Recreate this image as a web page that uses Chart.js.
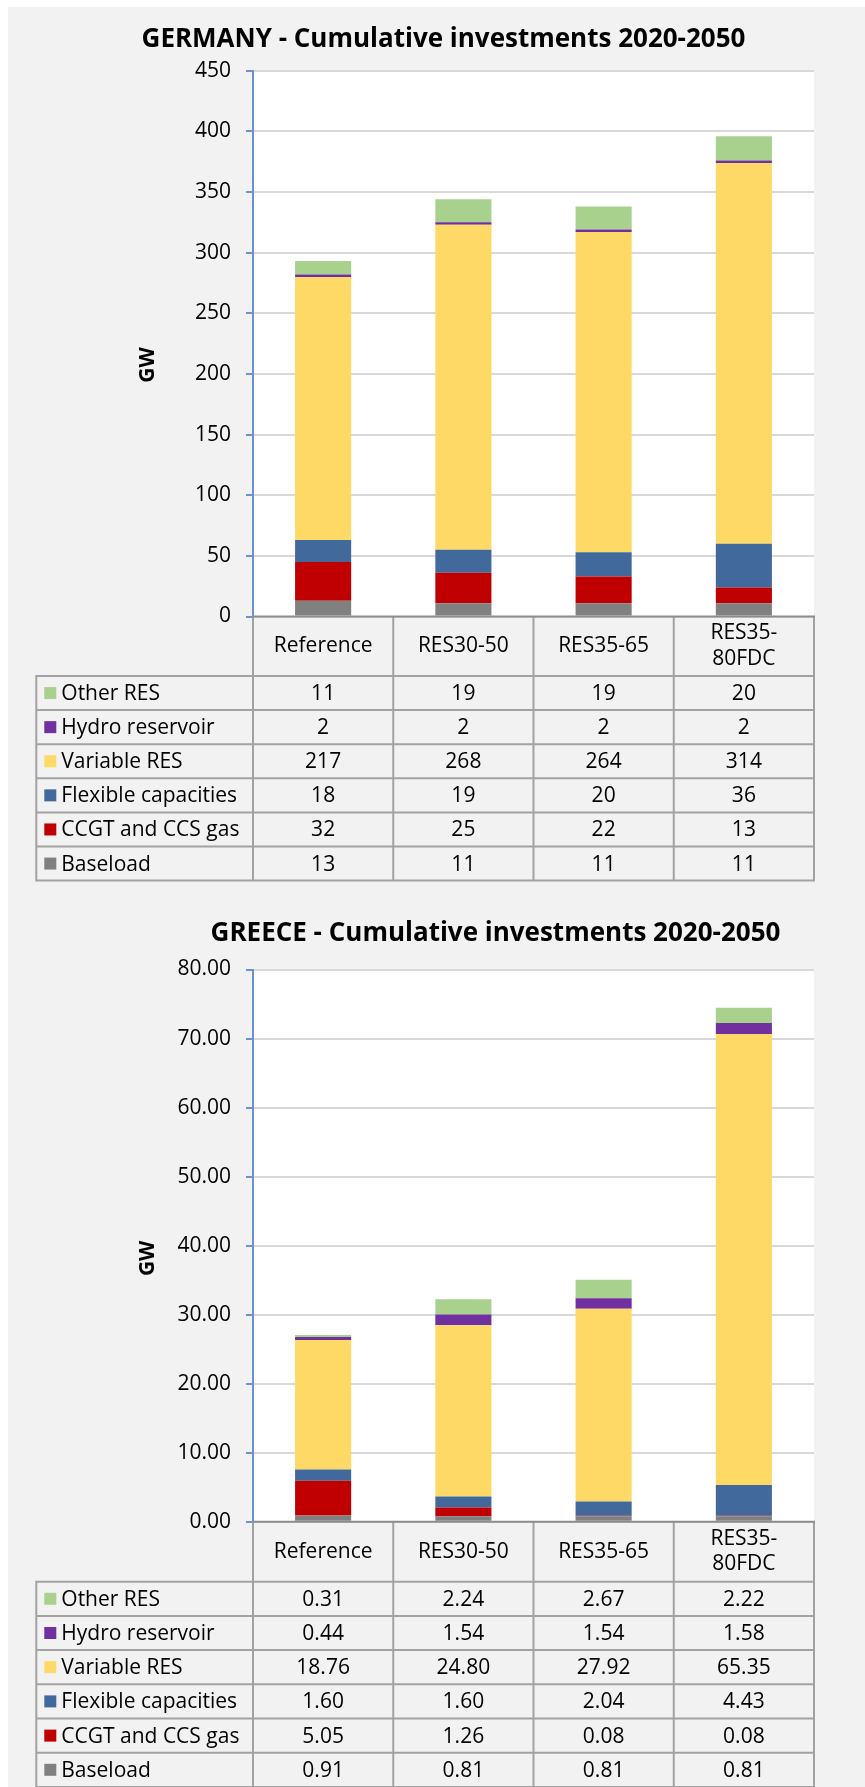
<!DOCTYPE html>
<html><head><meta charset="utf-8">
<script src="https://cdn.jsdelivr.net/npm/chart.js@4.4.1/dist/chart.umd.min.js"></script>
<style>
html,body{margin:0;padding:0;background:#fff;width:865px;height:1787px;overflow:hidden;}
#panel{position:absolute;left:8px;top:7px;right:0;bottom:0;background:#f2f2f2;}
canvas{position:absolute;left:0;}
#c1{top:0px;}
#c2{top:895px;}
</style></head><body>
<div id="panel"></div>
<canvas id="c1" width="865" height="895"></canvas>
<canvas id="c2" width="865" height="892"></canvas>
<script>
// ---- data ----
const categories = ['Reference', 'RES30-50', 'RES35-65', ['RES35-', '80FDC']];
const seriesNames = ['Baseload', 'CCGT and CCS gas', 'Flexible capacities', 'Variable RES', 'Hydro reservoir', 'Other RES'];

const deBaseload = [13, 11, 11, 11];
const deCcgt     = [32, 25, 22, 13];
const deFlexible = [18, 19, 20, 36];
const deVariable = [217, 268, 264, 314];
const deHydro    = [2, 2, 2, 2];
const deOther    = [11, 19, 19, 20];
const deYTicks   = [0, 50, 100, 150, 200, 250, 300, 350, 400, 450];

const grBaseload = [0.91, 0.81, 0.81, 0.81];
const grCcgt     = [5.05, 1.26, 0.08, 0.08];
const grFlexible = [1.60, 1.60, 2.04, 4.43];
const grVariable = [18.76, 24.80, 27.92, 65.35];
const grHydro    = [0.44, 1.54, 1.54, 1.58];
const grOther    = [0.31, 2.24, 2.67, 2.22];
const grYTicks   = [0, 10, 20, 30, 40, 50, 60, 70, 80];

// ---- styles ----
const seriesColors = ['#808080', '#c00000', '#41699c', '#fed966', '#7030a0', '#a9d18e'];
const FONT = 'Open Sans';
const AXIS_BLUE = '#6a93cf';

const tablePlugin = {
  id: 'dataTable',
  beforeDraw(chart) {
    const a = chart.chartArea, ctx = chart.ctx;
    ctx.save();
    ctx.fillStyle = '#ffffff';
    ctx.fillRect(a.left, a.top, a.right - a.left, a.bottom - a.top);
    ctx.restore();
  },
  afterDraw(chart) {
    const o = chart.options.plugins.dataTable;
    const ctx = chart.ctx, a = chart.chartArea, xs = chart.scales.x;
    const n = chart.data.labels.length;
    const colW = (xs.right - xs.left) / n;
    const top = a.bottom, hdrBot = top + o.headerH;
    const rows = chart.data.datasets.slice().reverse();
    const bottom = hdrBot + rows.length * o.rowH;
    ctx.save();
    ctx.fillStyle = '#000';
    ctx.font = '21px "' + FONT + '"';
    ctx.textBaseline = 'middle';
    ctx.textAlign = 'center';
    chart.data.labels.forEach((lab, i) => {
      const cx = xs.getPixelForValue(i);
      const lines = Array.isArray(lab) ? lab : [lab];
      const cy = (top + hdrBot) / 2;
      lines.forEach((ln, k) => ctx.fillText(ln, cx, cy + (k - (lines.length - 1) / 2) * o.lineH));
    });
    rows.forEach((ds, r) => {
      const cy = hdrBot + (r + 0.5) * o.rowH;
      ctx.fillStyle = ds.backgroundColor;
      ctx.fillRect(o.tableLeft + 8, cy - 6, 12, 12);
      ctx.fillStyle = '#000';
      ctx.textAlign = 'left';
      ctx.fillText(ds.label, o.tableLeft + 25, cy + 1);
      ctx.textAlign = 'center';
      ds.data.forEach((v, i) => ctx.fillText(v.toFixed(o.decimals), xs.getPixelForValue(i), cy + 1));
    });
    ctx.strokeStyle = '#a2a2a2';
    ctx.lineWidth = 2;
    ctx.beginPath();
    for (let r = 0; r <= rows.length; r++) {
      const y = hdrBot + r * o.rowH;
      ctx.moveTo(o.tableLeft - 1, y); ctx.lineTo(xs.right + 1, y);
    }
    ctx.moveTo(o.tableLeft, hdrBot); ctx.lineTo(o.tableLeft, bottom);
    for (let i = 0; i <= n; i++) {
      const x = xs.left + i * colW;
      ctx.moveTo(x, top); ctx.lineTo(x, bottom);
    }
    ctx.stroke();
    ctx.strokeStyle = '#8c8c8c';
    ctx.beginPath(); ctx.moveTo(xs.left, top); ctx.lineTo(xs.right + 1, top); ctx.stroke();
    // y axis title
    ctx.translate(o.gwX, a.top + o.gwFrac * (a.bottom - a.top));
    ctx.rotate(-Math.PI / 2);
    ctx.font = 'bold 21px "' + FONT + '"';
    ctx.textAlign = 'center';
    ctx.fillStyle = '#000';
    ctx.fillText('GW', 0, 0);
    ctx.restore();
  }
};

function makeChart(id, title, series, yTicks, decimals, L) {
  const datasets = series.map((d, i) => ({
    label: seriesNames[i], data: d, backgroundColor: seriesColors[i],
    borderWidth: 0, barPercentage: 0.4, categoryPercentage: 1.0
  }));
  return new Chart(document.getElementById(id), {
    type: 'bar',
    data: { labels: categories, datasets },
    plugins: [tablePlugin],
    options: {
      responsive: false, animation: false, devicePixelRatio: 1,
      layout: { padding: { left: L.padL, right: 51, top: 0, bottom: L.padB } },
      plugins: {
        legend: { display: false }, tooltip: { enabled: false },
        title: { display: true, text: title, color: '#000',
          font: { family: FONT, size: 26, weight: 'bold', lineHeight: 1.2 },
          padding: { top: L.tPadT, bottom: L.tPadB } },
        dataTable: { tableLeft: 36.3, headerH: L.headerH, rowH: L.rowH, lineH: 25.5,
          decimals, gwX: 148, gwFrac: L.gwFrac }
      },
      scales: {
        x: { stacked: true, display: false },
        y: { stacked: true, min: yTicks[0], max: yTicks[yTicks.length - 1],
          afterBuildTicks: s => { s.ticks = yTicks.map(v => ({ value: v })); },
          afterFit: s => { s.width = 253 - L.padL; },
          ticks: { color: '#000', padding: 15, font: { family: FONT, size: 21 },
            callback: v => Number(v).toFixed(decimals) },
          grid: { color: '#d9d9d9', lineWidth: 2, tickColor: AXIS_BLUE, tickLength: 7, drawTicks: true },
          border: { display: true, color: AXIS_BLUE, width: 2 } }
      }
    }
  });
}

makeChart('c1', 'GERMANY - Cumulative investments 2020-2050',
  [deBaseload, deCcgt, deFlexible, deVariable, deHydro, deOther], deYTicks, 0,
  { padL: 73, padB: 278.5, tPadT: 24.4, tPadB: 15.1, headerH: 59.5, rowH: 34.1, gwFrac: 0.539 });

makeChart('c2', 'GREECE - Cumulative investments 2020-2050',
  [grBaseload, grCcgt, grFlexible, grVariable, grHydro, grOther], grYTicks, 2,
  { padL: 177, padB: 265.2, tPadT: 23.1, tPadB: 20.2, headerH: 59.9, rowH: 34.2, gwFrac: 0.523 });
</script>
</body></html>
